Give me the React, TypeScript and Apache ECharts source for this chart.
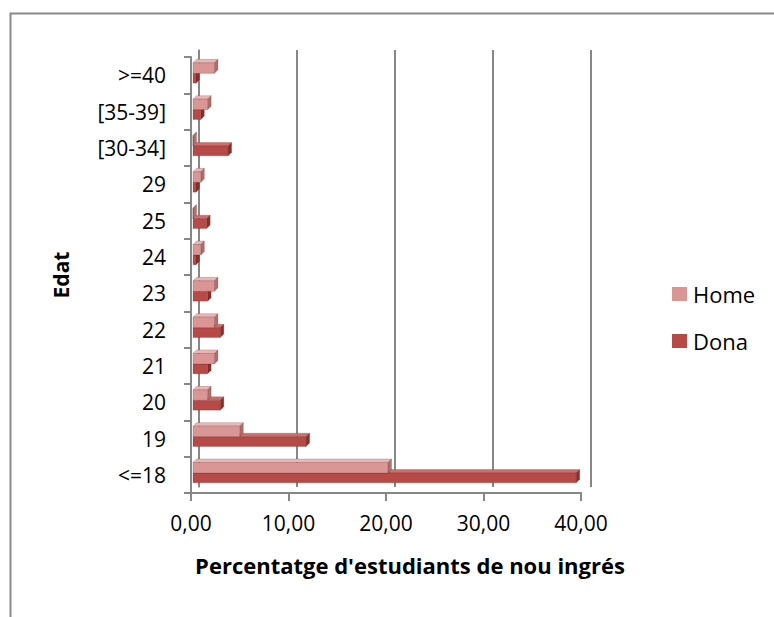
import React, { useEffect, useRef } from "react";
import * as echarts from "echarts";

const categories = ["<=18", "19", "20", "21", "22", "23", "24", "25", "29", "[30-34]", "[35-39]", ">=40"];
const homeValues = [20.0, 4.8, 1.5, 2.2, 2.2, 2.2, 0.8, 0.0, 0.8, 0.0, 1.5, 2.2];
const donaValues = [39.3, 11.6, 2.8, 1.5, 2.8, 1.5, 0.3, 1.4, 0.3, 3.6, 0.8, 0.3];
const xTicks = [0, 10, 20, 30, 40];

const FONT = "Open Sans";
const FS = 21;
const AXIS_COLOR = "#878787";

function makeRender(front: string, top: string, side: string, from: number, to: number) {
  return (params: any, api: any) => {
    const val = api.value(0);
    const cat = api.value(1);
    const start = api.coord([0, cat]);
    const end = api.coord([val, cat]);
    const band = api.size([0, 1])[1];
    const d = 3.5;
    const x0 = start[0] + 2;
    const x1 = end[0] + 2;
    const y0 = start[1] + from * band;
    const y1 = start[1] + to * band;
    const stroke = { stroke: "rgba(90,30,30,0.35)", lineWidth: 0.6 };
    return {
      type: "group",
      children: [
        {
          type: "polygon",
          shape: { points: [[x0, y0], [x1, y0], [x1 + d, y0 - d], [x0 + d, y0 - d]] },
          style: { fill: top, ...stroke },
        },
        {
          type: "polygon",
          shape: { points: [[x1, y0], [x1 + d, y0 - d], [x1 + d, y1 - d], [x1, y1]] },
          style: { fill: side, ...stroke },
        },
        {
          type: "rect",
          shape: { x: x0, y: y0, width: Math.max(x1 - x0, 0), height: y1 - y0 },
          style: { fill: front, ...stroke },
        },
      ],
    };
  };
}

export default function App() {
  const ref = useRef<HTMLDivElement>(null);
  useEffect(() => {
    if (!ref.current) return;
    const chart = echarts.init(ref.current, null, { renderer: "svg" });
    const option: any = {
      animation: false,
      backgroundColor: "#ffffff",
      textStyle: { fontFamily: FONT },
      graphic: [
        {
          type: "rect",
          left: 8,
          top: 11,
          shape: { width: 800, height: 640 },
          style: { fill: "none", stroke: "#8a8a8a", lineWidth: 2 },
          z: -10,
        },
      ],
      legend: {
        orient: "vertical",
        left: 672,
        top: 283,
        padding: 0,
        itemWidth: 15,
        itemHeight: 14,
        itemGap: 25,
        icon: "rect",
        data: ["Home", "Dona"],
        textStyle: { fontFamily: FONT, fontSize: 22, color: "#000", padding: [0, 0, 0, 1] },
      },
      grid: [
        { left: 191, right: 193, top: 57, bottom: 124 },
        { left: 199, right: 183, top: 50, bottom: 130 },
      ],
      xAxis: [
        {
          type: "value",
          gridIndex: 0,
          min: 0,
          max: 40,
          interval: 10,
          axisLine: { show: true, lineStyle: { color: AXIS_COLOR, width: 2 } },
          axisTick: { show: true, length: 8, lineStyle: { color: AXIS_COLOR, width: 2 } },
          splitLine: { show: false },
          axisLabel: {
            margin: 19,
            fontFamily: FONT,
            fontSize: FS,
            color: "#000",
            formatter: (v: number) => v.toFixed(2).replace(".", ","),
            customValues: xTicks,
          },
          name: "Percentatge d'estudiants de nou ingrés",
          nameLocation: "middle",
          nameGap: 61,
          nameTextStyle: {
            fontFamily: FONT,
            fontSize: 22,
            fontWeight: "bold",
            color: "#000",
            padding: [0, 0, 0, 48],
          },
        },
        {
          type: "value",
          gridIndex: 1,
          min: 0,
          max: 40,
          interval: 10,
          axisLine: { show: false },
          axisTick: { show: false },
          axisLabel: { show: false },
          splitLine: { show: true, lineStyle: { color: AXIS_COLOR, width: 2 } },
        },
      ],
      yAxis: [
        {
          type: "category",
          gridIndex: 0,
          data: categories,
          axisLine: { show: true, lineStyle: { color: AXIS_COLOR, width: 2 } },
          axisTick: { show: true, length: 7, lineStyle: { color: AXIS_COLOR, width: 2 } },
          axisLabel: { margin: 25, fontFamily: FONT, fontSize: FS, color: "#000" },
          name: "Edat",
          nameLocation: "middle",
          nameGap: 120,
          nameTextStyle: { fontFamily: FONT, fontSize: FS, fontWeight: "bold", color: "#000" },
        },
        {
          type: "category",
          gridIndex: 1,
          data: categories,
          axisLine: { show: true, lineStyle: { color: AXIS_COLOR, width: 1.5 } },
          axisTick: { show: false },
          axisLabel: { show: false },
        },
      ],
      series: [
        {
          name: "Dona",
          type: "custom",
          xAxisIndex: 0,
          yAxisIndex: 0,
          itemStyle: { color: "#B54A47" },
          encode: { x: 0, y: 1 },
          data: donaValues.map((v, i) => [v, i]),
          renderItem: makeRender("#B54A47", "#CC6F6C", "#8A2E2C", -0.05, 0.22),
          z: 3,
        },
        {
          name: "Home",
          type: "custom",
          xAxisIndex: 0,
          yAxisIndex: 0,
          itemStyle: { color: "#D99694" },
          encode: { x: 0, y: 1 },
          data: homeValues.map((v, i) => [v, i]),
          renderItem: makeRender("#D99694", "#E8B8B6", "#B06E6C", -0.34, -0.05),
          z: 4,
        },
      ],
    };
    chart.setOption(option);
    return () => chart.dispose();
  }, []);
  return <div ref={ref} style={{ width: 774, height: 617, position: "absolute", left: 0, top: 0 }} />;
}
